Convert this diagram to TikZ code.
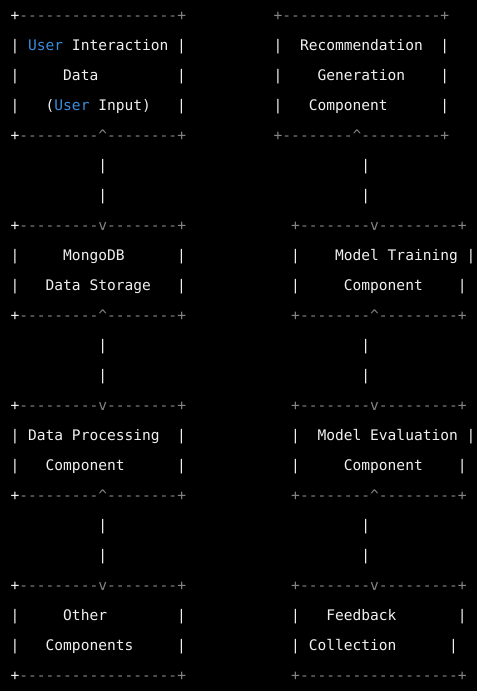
\documentclass[tikz,border=0pt]{standalone}
\usepackage{fontspec}
\setmonofont{DejaVu Sans Mono}
\definecolor{fg}{HTML}{F0F0F0}
\definecolor{bd}{HTML}{858585}
\definecolor{kw}{HTML}{3A8EE0}
\newcommand{\crt}{\string^}
\tikzset{txt/.style={anchor=base west,inner sep=0pt,outer sep=0pt,font=\ttfamily\fontsize{14.57}{16}\selectfont}}
\newcommand{\tx}[5]{\node[txt,text=#4] (#1) at ({(10.6+8.77*#2)*1pt},{(670-30*#3)*1pt}) {#5};}
\begin{document}
\begin{tikzpicture}
\fill[black] (0,0) rectangle (477pt,691pt);
\useasboundingbox (0,0) rectangle (477pt,691pt);
% line 0
\tx{A0a}{0}{0}{fg}{+}
\tx{A0b}{1}{0}{bd}{------------------+}
\tx{E0}{30}{0}{bd}{+------------------+}
% line 1
\tx{A1a}{0}{1}{fg}{|}
\tx{A1u}{2}{1}{kw}{User}
\tx{A1t}{7}{1}{fg}{Interaction}
\tx{A1b}{19}{1}{fg}{|}
\tx{E1a}{30}{1}{fg}{|}
\tx{E1t}{33}{1}{fg}{Recommendation}
\tx{E1b}{49}{1}{fg}{|}
% line 2
\tx{A2a}{0}{2}{fg}{|}
\tx{A2t}{6}{2}{fg}{Data}
\tx{A2b}{19}{2}{fg}{|}
\tx{E2a}{30}{2}{fg}{|}
\tx{E2t}{35}{2}{fg}{Generation}
\tx{E2b}{49}{2}{fg}{|}
% line 3
\tx{A3a}{0}{3}{fg}{|}
\tx{A3p}{4}{3}{fg}{(}
\tx{A3u}{5}{3}{kw}{User}
\tx{A3t}{10}{3}{fg}{Input)}
\tx{A3b}{19}{3}{fg}{|}
\tx{E3a}{30}{3}{fg}{|}
\tx{E3t}{34}{3}{fg}{Component}
\tx{E3b}{49}{3}{fg}{|}
% line 4
\tx{A4a}{0}{4}{fg}{+}
\tx{A4b}{1}{4}{bd}{---------\crt--------+}
\tx{E4}{30}{4}{bd}{+--------\crt---------+}
% lines 5-6 connectors
\tx{cAB1}{10}{5}{fg}{|}
\tx{cAB2}{10}{6}{fg}{|}
\tx{cEF1}{40}{5}{fg}{|}
\tx{cEF2}{40}{6}{fg}{|}
% line 7
\tx{B7a}{0}{7}{fg}{+}
\tx{B7b}{1}{7}{bd}{---------v--------+}
\tx{F7}{32}{7}{bd}{+--------v---------+}
% line 8
\tx{B8a}{0}{8}{fg}{|}
\tx{B8t}{6}{8}{fg}{MongoDB}
\tx{B8b}{19}{8}{fg}{|}
\tx{F8a}{32}{8}{fg}{|}
\tx{F8t}{37}{8}{fg}{Model Training}
\tx{F8b}{52}{8}{fg}{|}
% line 9
\tx{B9a}{0}{9}{fg}{|}
\tx{B9t}{4}{9}{fg}{Data Storage}
\tx{B9b}{19}{9}{fg}{|}
\tx{F9a}{32}{9}{fg}{|}
\tx{F9t}{38}{9}{fg}{Component}
\tx{F9b}{51}{9}{fg}{|}
% line 10
\tx{B10a}{0}{10}{fg}{+}
\tx{B10b}{1}{10}{bd}{---------\crt--------+}
\tx{F10}{32}{10}{bd}{+--------\crt---------+}
% lines 11-12 connectors
\tx{cBC1}{10}{11}{fg}{|}
\tx{cBC2}{10}{12}{fg}{|}
\tx{cFG1}{40}{11}{fg}{|}
\tx{cFG2}{40}{12}{fg}{|}
% line 13
\tx{C13a}{0}{13}{fg}{+}
\tx{C13b}{1}{13}{bd}{---------v--------+}
\tx{G13}{32}{13}{bd}{+--------v---------+}
% line 14
\tx{C14a}{0}{14}{fg}{|}
\tx{C14t}{2}{14}{fg}{Data Processing}
\tx{C14b}{19}{14}{fg}{|}
\tx{G14a}{32}{14}{fg}{|}
\tx{G14t}{35}{14}{fg}{Model Evaluation}
\tx{G14b}{52}{14}{fg}{|}
% line 15
\tx{C15a}{0}{15}{fg}{|}
\tx{C15t}{4}{15}{fg}{Component}
\tx{C15b}{19}{15}{fg}{|}
\tx{G15a}{32}{15}{fg}{|}
\tx{G15t}{38}{15}{fg}{Component}
\tx{G15b}{51}{15}{fg}{|}
% line 16
\tx{C16a}{0}{16}{fg}{+}
\tx{C16b}{1}{16}{bd}{---------\crt--------+}
\tx{G16}{32}{16}{bd}{+--------\crt---------+}
% lines 17-18 connectors
\tx{cCD1}{10}{17}{fg}{|}
\tx{cCD2}{10}{18}{fg}{|}
\tx{cGH1}{40}{17}{fg}{|}
\tx{cGH2}{40}{18}{fg}{|}
% line 19
\tx{D19a}{0}{19}{fg}{+}
\tx{D19b}{1}{19}{bd}{---------v--------+}
\tx{H19}{32}{19}{bd}{+--------v---------+}
% line 20
\tx{D20a}{0}{20}{fg}{|}
\tx{D20t}{6}{20}{fg}{Other}
\tx{D20b}{19}{20}{fg}{|}
\tx{H20a}{32}{20}{fg}{|}
\tx{H20t}{36}{20}{fg}{Feedback}
\tx{H20b}{51}{20}{fg}{|}
% line 21
\tx{D21a}{0}{21}{fg}{|}
\tx{D21t}{4}{21}{fg}{Components}
\tx{D21b}{19}{21}{fg}{|}
\tx{H21a}{32}{21}{fg}{|}
\tx{H21t}{34}{21}{fg}{Collection}
\tx{H21b}{50}{21}{fg}{|}
% line 22
\tx{D22a}{0}{22}{fg}{+}
\tx{D22b}{1}{22}{bd}{------------------+}
\tx{H22}{32}{22}{bd}{+------------------+}
\end{tikzpicture}
\end{document}
